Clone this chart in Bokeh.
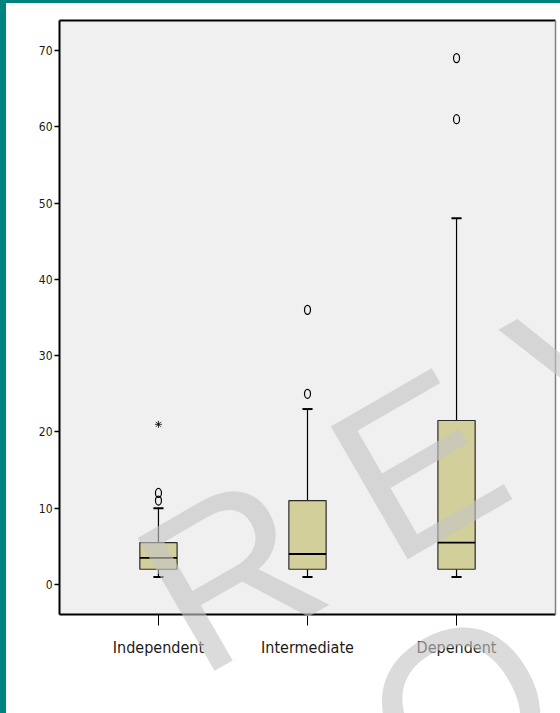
from bokeh.plotting import figure
from bokeh.models import (FixedTicker, LinearAxis, Range1d, Spacer, Div,
                          ColumnDataSource)
from bokeh.layouts import row, column
from bokeh.embed import file_html
from bokeh.resources import INLINE

# ---- data -----------------------------------------------------------------
categories = ["Independent", "Intermediate", "Dependent"]
q1 = [2, 2, 2]
medians = [3.5, 4, 5.5]
q3 = [5.5, 11, 21.5]
whisker_low = [1, 1, 1]
whisker_high = [10, 23, 48]

# mild outliers (circles) and extreme values (stars), by group index
outlier_group = [1, 1, 2, 2, 3, 3]
outlier_value = [11, 12, 25, 36, 61, 69]
extreme_group = [1]
extreme_value = [21]

y_ticks = [0, 10, 20, 30, 40, 50, 60, 70]

# ---- styling --------------------------------------------------------------
NARROW = "DejaVu Sans Condensed"
TEAL = "#00827e"
BOX_FILL = "#d3cf9b"
BOX_WIDTH = 0.25
CAP_HALF = 0.034

pos = list(range(1, len(categories) + 1))

p = figure(width=554, height=710,
           x_range=Range1d(0.336, 3.664), y_range=Range1d(-3.93, 73.93),
           output_backend="svg", toolbar_location=None,
           min_border_left=53, min_border_right=5,
           min_border_top=17, min_border_bottom=99)
p.background_fill_color = "#f0f0f0"
p.border_fill_color = "white"
p.outline_line_color = None
p.grid.visible = False

# axes
p.yaxis.ticker = FixedTicker(ticks=y_ticks)
p.yaxis.minor_tick_line_color = None
p.yaxis.major_tick_out = 5
p.yaxis.major_tick_in = 0
p.yaxis.major_tick_line_width = 1.5
p.yaxis.axis_line_width = 2
p.yaxis.major_label_standoff = 2
p.yaxis.major_label_text_font = NARROW
p.yaxis.major_label_text_font_size = "12px"
p.yaxis.major_label_text_color = "#1a1a1a"

p.xaxis.ticker = FixedTicker(ticks=pos)
p.xaxis.major_label_overrides = {i: c for i, c in zip(pos, categories)}
p.xaxis.minor_tick_line_color = None
p.xaxis.major_tick_out = 11
p.xaxis.major_tick_in = 0
p.xaxis.major_tick_line_width = 1
p.xaxis.axis_line_width = 2
p.xaxis.major_label_standoff = 12
p.xaxis.major_label_text_font = NARROW
p.xaxis.major_label_text_font_size = "16px"
p.xaxis.major_label_text_color = "#1a1a1a"

# frame edges on top (black) and right (grey)
p.add_layout(LinearAxis(ticker=FixedTicker(ticks=[]), axis_line_width=2,
                        minor_tick_line_color=None), "above")
p.add_layout(LinearAxis(ticker=FixedTicker(ticks=[]), axis_line_width=1.5,
                        axis_line_color="#808080",
                        minor_tick_line_color=None), "right")

src = ColumnDataSource(dict(x=pos, q1=q1, q3=q3, med=medians,
                            lo=whisker_low, hi=whisker_high,
                            x0=[x - CAP_HALF for x in pos],
                            x1=[x + CAP_HALF for x in pos],
                            m0=[x - BOX_WIDTH / 2 for x in pos],
                            m1=[x + BOX_WIDTH / 2 for x in pos]))

# whiskers
p.segment(x0="x", x1="x", y0="q3", y1="hi", source=src, line_color="black", line_width=1.2)
p.segment(x0="x", x1="x", y0="lo", y1="q1", source=src, line_color="black", line_width=1.2)
# caps
p.segment(x0="x0", x1="x1", y0="hi", y1="hi", source=src, line_color="black", line_width=2)
p.segment(x0="x0", x1="x1", y0="lo", y1="lo", source=src, line_color="black", line_width=2)
# boxes
p.vbar(x="x", width=BOX_WIDTH, bottom="q1", top="q3", source=src,
       fill_color=BOX_FILL, line_color="#2b2b2b", line_width=1.2)
# medians
p.segment(x0="m0", x1="m1", y0="med", y1="med", source=src, line_color="black", line_width=1.8)

# outliers
p.ellipse(x=outlier_group, y=outlier_value, width=6, height=9,
          width_units="screen", height_units="screen",
          fill_color=None, line_color="black", line_width=1.2)
p.scatter(x=extreme_group, y=extreme_value, marker="asterisk", size=7,
          line_color="black", line_width=0.8)

# page frame: teal band on the left and top
left_band = Spacer(width=6, height=713, styles={"background-color": TEAL})
top_band = Spacer(width=554, height=3, styles={"background-color": TEAL})

# watermark laid over the whole page
WM_STYLE = ("position:absolute; white-space:pre; line-height:1; "
            "font-family:'Liberation Sans', Arial, sans-serif; font-size:223px; "
            "color:rgba(197,197,197,0.62); transform:rotate(-30deg); "
            "transform-origin:0 0.85em;")
watermark_lines = [("R E V", 194, 676), ("O", 420, 814)]
wm_html = "".join(
    f'<span style="{WM_STYLE} left:{x}px; top:calc({y}px - 0.85em);">{t}</span>'
    for t, x, y in watermark_lines)
watermark = Div(text=wm_html, width=560, height=713,
                styles={"position": "absolute", "left": "0px", "top": "0px",
                        "pointer-events": "none", "z-index": "10",
                        "overflow": "hidden"})

page = column(row(left_band, column(top_band, p, spacing=0), spacing=0),
              watermark, spacing=0)

open("out.html", "w").write(file_html(page, INLINE))
